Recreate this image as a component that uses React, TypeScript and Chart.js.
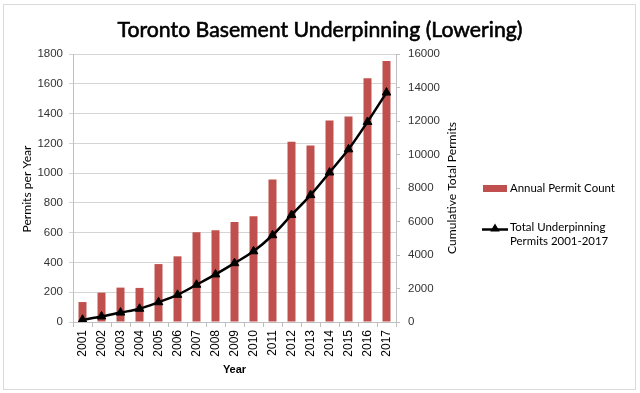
import React, { useEffect, useRef } from "react";
import { Chart, registerables } from "chart.js";

Chart.register(...registerables);

const chartTitle = "Toronto Basement Underpinning (Lowering)";
const years = ["2001", "2002", "2003", "2004", "2005", "2006", "2007", "2008", "2009", "2010", "2011", "2012", "2013", "2014", "2015", "2016", "2017"];
const annualPermits = [134, 197, 231, 229, 389, 441, 602, 617, 671, 711, 957, 1210, 1185, 1353, 1380, 1637, 1753];
const cumulativePermits = [134, 331, 562, 791, 1180, 1621, 2223, 2840, 3511, 4222, 5179, 6389, 7574, 8927, 10307, 11944, 13697];
const leftAxisMax = 1800;
const leftAxisStep = 200;
const rightAxisMax = 16000;
const rightAxisStep = 2000;
const barLabel = "Annual Permit Count";
const lineLabelLines = ["Total Underpinning", "Permits 2001-2017"];
const xAxisTitle = "Year";
const leftAxisTitle = "Permits per Year";
const rightAxisTitle = "Cumulative Total Permits";

const BAR_COLOR = "#c0504d";
const TEXT_FONT = 'Lato, "Open Sans", "Liberation Sans", sans-serif';
const TICK_FONT = '"Liberation Sans", Arial, sans-serif';

function fitFont(ctx: CanvasRenderingContext2D, text: string, target: number, weight: string) {
  ctx.font = `${weight} 20px ${TEXT_FONT}`;
  const w = ctx.measureText(text).width;
  const size = (20 * target) / w;
  ctx.font = `${weight} ${size.toFixed(2)}px ${TEXT_FONT}`;
  return size;
}

function drawTriangle(ctx: CanvasRenderingContext2D, x: number, y: number, r: number) {
  ctx.beginPath();
  ctx.moveTo(x, y - r);
  ctx.lineTo(x + r * 0.95, y + r * 0.6);
  ctx.lineTo(x - r * 0.95, y + r * 0.6);
  ctx.closePath();
  ctx.fill();
}

const decorPlugin = {
  id: "decor",
  beforeDraw(chart: any) {
    const ctx: CanvasRenderingContext2D = chart.ctx;
    ctx.save();
    ctx.fillStyle = "#ffffff";
    ctx.fillRect(0, 0, chart.width, chart.height);
    ctx.strokeStyle = "#d9d9d9";
    ctx.lineWidth = 1;
    ctx.strokeRect(3.5, 4.5, 632, 385);
    ctx.restore();
  },
  afterDraw(chart: any) {
    const ctx: CanvasRenderingContext2D = chart.ctx;
    const { top, bottom, left, right } = chart.chartArea;
    const midY = (top + bottom) / 2;
    ctx.save();
    ctx.fillStyle = "#000";
    ctx.strokeStyle = "#000";
    ctx.textBaseline = "middle";
    ctx.textAlign = "center";
    fitFont(ctx, chartTitle, 405, "normal");
    ctx.lineWidth = 0.6;
    ctx.fillText(chartTitle, 320, 30);
    ctx.strokeText(chartTitle, 320, 30);

    // x title
    ctx.font = `bold 11px ${TICK_FONT}`;
    ctx.fillText(xAxisTitle, (left + right) / 2, 370);

    // left title
    ctx.save();
    fitFont(ctx, leftAxisTitle, 87, "normal");
    ctx.translate(27, midY + 1);
    ctx.rotate(-Math.PI / 2);
    ctx.fillText(leftAxisTitle, 0, 0);
    ctx.restore();

    // right title
    ctx.save();
    fitFont(ctx, rightAxisTitle, 132, "normal");
    ctx.translate(452, midY);
    ctx.rotate(-Math.PI / 2);
    ctx.fillText(rightAxisTitle, 0, 0);
    ctx.restore();

    // legend
    ctx.textAlign = "left";
    fitFont(ctx, barLabel, 105, "normal");
    ctx.fillStyle = BAR_COLOR;
    ctx.fillRect(483, 185, 24, 7);
    ctx.fillStyle = "#000";
    ctx.fillText(barLabel, 510, 188.5);

    ctx.lineWidth = 2.5;
    ctx.beginPath();
    ctx.moveTo(482, 229.5);
    ctx.lineTo(508, 229.5);
    ctx.stroke();
    drawTriangle(ctx, 495, 228.5, 5);
    ctx.fillText(lineLabelLines[0], 510, 227);
    ctx.fillText(lineLabelLines[1], 510, 241.5);
    ctx.restore();
  },
};

export default function App() {
  const canvasRef = useRef<HTMLCanvasElement | null>(null);

  useEffect(() => {
    if (!canvasRef.current) return;
    const plain = (v: any) => String(v);
    const chart = new Chart(canvasRef.current, {
      type: "bar",
      data: {
        labels: years,
        datasets: [
          {
            type: "line",
            label: lineLabelLines.join(" "),
            data: cumulativePermits,
            yAxisID: "y2",
            borderColor: "#000",
            backgroundColor: "#000",
            borderWidth: 2.5,
            tension: 0.35,
            pointStyle: "triangle",
            pointRadius: 5,
            pointBackgroundColor: "#000",
            pointBorderColor: "#000",
            pointBorderWidth: 1,
            order: 0,
          } as any,
          {
            type: "bar",
            label: barLabel,
            data: annualPermits,
            yAxisID: "y",
            backgroundColor: BAR_COLOR,
            barPercentage: 0.42,
            categoryPercentage: 1,
            order: 1,
          },
        ],
      },
      options: {
        responsive: false,
        animation: false,
        devicePixelRatio: 1,
        layout: { padding: { top: 54, left: 0, right: 0, bottom: 0 } },
        plugins: {
          legend: { display: false },
          title: { display: false },
          tooltip: { enabled: false },
        },
        scales: {
          x: {
            offset: true,
            grid: {
              offset: true,
              drawOnChartArea: false,
              drawTicks: true,
              tickLength: 5,
              color: "#bfbfbf",
            },
            border: { color: "#bfbfbf" },
            ticks: {
              minRotation: 90,
              maxRotation: 90,
              padding: 3,
              color: "#000",
              font: { family: TICK_FONT, size: 12 },
            },
            afterFit: (s: any) => {
              s.height = 71;
            },
          },
          y: {
            position: "left",
            min: 0,
            max: leftAxisMax,
            grid: { color: "#d4d4d4", tickLength: 4 },
            border: { color: "#bfbfbf" },
            ticks: {
              stepSize: leftAxisStep,
              padding: 6,
              color: "#333",
              callback: plain,
              font: { family: TICK_FONT, size: 11.5 },
            },
            afterFit: (s: any) => {
              s.width = 73;
            },
          },
          y2: {
            position: "right",
            min: 0,
            max: rightAxisMax,
            grid: { drawOnChartArea: false, color: "#bfbfbf", tickLength: 4 },
            border: { color: "#bfbfbf" },
            ticks: {
              stepSize: rightAxisStep,
              padding: 8,
              color: "#333",
              callback: plain,
              font: { family: TICK_FONT, size: 11.5 },
            },
            afterFit: (s: any) => {
              s.width = 244;
            },
          },
        },
      },
      plugins: [decorPlugin],
    });
    return () => chart.destroy();
  }, []);

  return (
    <div style={{ position: "fixed", left: 0, top: 0, width: 640, height: 393, background: "#fff" }}>
      <canvas ref={canvasRef} width={640} height={393} style={{ display: "block", width: 640, height: 393 }} />
    </div>
  );
}
